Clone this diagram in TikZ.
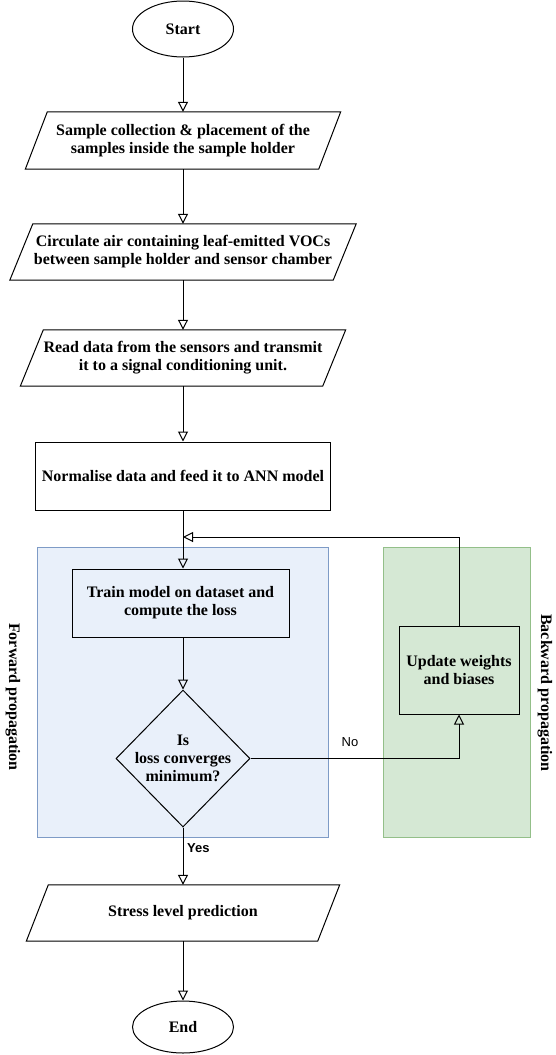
\documentclass[tikz,border=0pt]{standalone}
\usepackage{fontspec}
\setmainfont{Liberation Serif}
\setsansfont{Liberation Sans}
\usetikzlibrary{arrows.meta,shapes.geometric}
\definecolor{blueF}{HTML}{E9F0FA}
\definecolor{blueD}{HTML}{7E9BC6}
\definecolor{greenF}{HTML}{D5E8D4}
\definecolor{greenD}{HTML}{93BF89}
\newcommand\drawpara[2]{\draw[ln] ([xshift=#2]#1.north west) -- ([xshift=#2]#1.north east) -- ([xshift=-#2]#1.south east) -- ([xshift=-#2]#1.south west) -- cycle;}
\begin{document}
\begin{tikzpicture}[x=1pt,y=-1pt,
  txt/.style={font=\bfseries\fontsize{16}{18}\selectfont, align=center},
  ln/.style={draw=black, line width=1pt},
  box/.style={rectangle, ln, inner sep=0pt, txt},
  paranode/.style={rectangle, draw=none, inner sep=0pt, txt},
  term/.style={ellipse, ln, inner sep=0pt, txt, fill=white},
  region/.style={rectangle, line width=1pt, inner sep=0pt},
  arr/.style={ln, -{Triangle[open,length=10pt,width=10pt]}},
  lbl/.style={font=\sffamily\fontsize{13}{15}\selectfont, inner sep=1pt}
]
\useasboundingbox (0,0) rectangle (555,1055);
% regions
\node[region, fill=blueF, draw=blueD, minimum width=291, minimum height=290] (fwd) at (182.5,692) {};
\node[region, fill=greenF, draw=greenD, minimum width=147, minimum height=290] (bwd) at (456.5,692) {};
% nodes
\node[term, minimum width=101, minimum height=56] (start) at (183,29) {Start};
\node[paranode, minimum width=293, minimum height=57] (p1) at (183,140.5) {Sample collection \& placement of the\\samples inside the sample holder};
\drawpara{p1}{11}
\node[paranode, minimum width=323, minimum height=56] (p2) at (183,252) {Circulate air containing leaf-emitted VOCs\\between sample holder and sensor chamber};
\drawpara{p2}{11.5}
\node[paranode, minimum width=302, minimum height=56] (p3) at (183,358) {Read data from the sensors and transmit\\it to a signal conditioning unit.};
\drawpara{p3}{11.5}
\node[box, minimum width=295, minimum height=68] (norm) at (183,476) {Normalise data and feed it to ANN model};
\node[box, minimum width=217, minimum height=68] (train) at (180.5,603) {Train model on dataset and\\compute the loss};
\node[diamond, ln, inner sep=0pt, minimum width=134, minimum height=137, label={[txt]center:Is\\loss converges\\minimum?}] (dia) at (183,758.5) {};
\node[box, minimum width=120, minimum height=88] (upd) at (459,670) {Update weights\\and biases};
\node[paranode, minimum width=291, minimum height=56] (stress) at (183,913) {Stress level prediction};
\drawpara{stress}{11}
\node[term, minimum width=101, minimum height=52] (end) at (183,1027) {End};
% labels
\node[txt, rotate=-90] (fl) at (13,697) {Forward propagation};
\node[txt, rotate=-90] (bl) at (545,693) {Backward propagation};
\node[lbl] (no) at (350,742) {No};
\node[lbl, font=\sffamily\bfseries\fontsize{13}{15}\selectfont, anchor=west] (yes) at (186,848) {Yes};
% connectors
\coordinate (j) at (183,537);
\draw[arr] (start.south) -- (p1.north);
\draw[arr] (p1.south) -- (p2.north);
\draw[arr] (p2.south) -- (p3.north);
\draw[arr] (p3.south) -- (norm.north);
\draw[arr] (norm.south) -- (norm.south |- train.north);
\draw[arr] (train.south -| dia.north) -- (dia.north);
\draw[arr] (dia.east) -| (upd.south);
\draw[arr] (upd.north) |- (j);
\draw[arr] (dia.south) -- (stress.north);
\draw[arr] (stress.south) -- (end.north);
\end{tikzpicture}
\end{document}
